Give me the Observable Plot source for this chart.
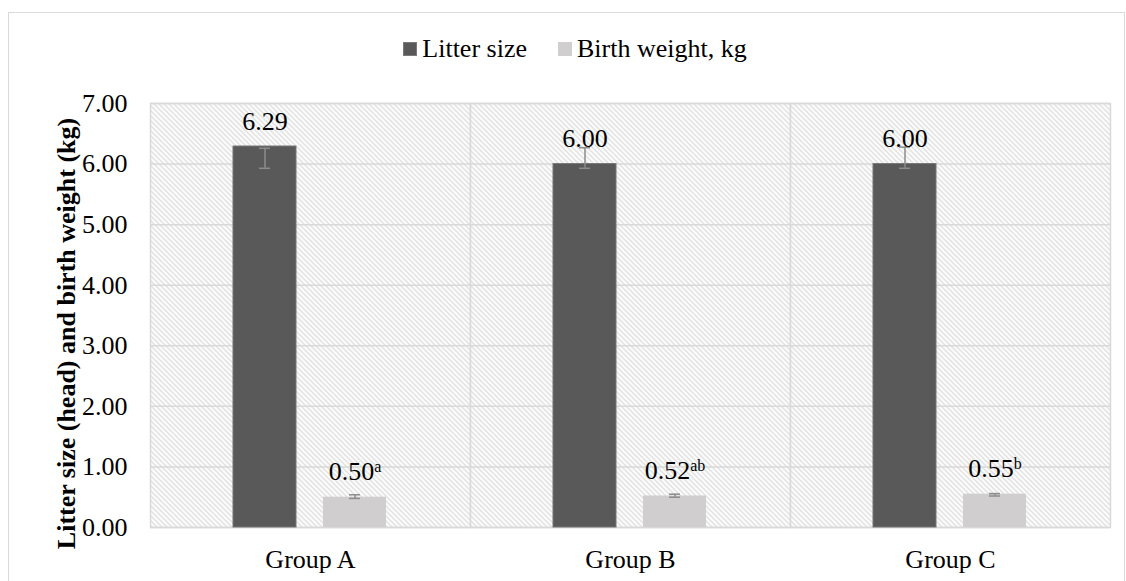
<!DOCTYPE html>
<html><head><meta charset="utf-8">
<script src="https://cdn.jsdelivr.net/npm/d3@7"></script>
<script src="https://cdn.jsdelivr.net/npm/@observablehq/plot@0.6"></script>
<style>
html,body{margin:0;padding:0;background:#fff;}
body{width:1126px;height:581px;overflow:hidden;position:relative;font-family:"Liberation Serif","Times New Roman",serif;}
#box{position:absolute;left:8px;top:12px;width:1117px;height:640px;border:1.5px solid #d9d9d9;box-sizing:border-box;}
#legend{position:absolute;top:34px;left:0;width:1150px;display:flex;justify-content:center;gap:31px;font-family:"Liberation Serif","Times New Roman",serif;font-size:26px;line-height:30px;color:#000;}
#legend .item{display:flex;align-items:center;}
#legend .sw{width:14px;height:14px;margin-right:5px;box-sizing:border-box;}
#chart{position:absolute;left:0;top:80px;}
</style>
</head><body>
<div id="box"></div>
<div id="legend"></div>
<div id="chart"></div>
<script>
// ---- data ----
const groups = ["Group A", "Group B", "Group C"];
const series = ["Litter size", "Birth weight, kg"];
const litterSize = [6.29, 6.00, 6.00];
const litterErrLow = [5.93, 5.93, 5.93];
const litterErrHigh = [6.26, 6.27, 6.28];
const birthWeight = [0.50, 0.52, 0.55];
const weightErrLow = [0.48, 0.50, 0.52];
const weightErrHigh = [0.54, 0.55, 0.56];
const weightLetters = ["a", "ab", "b"];
const yTicks = [0, 1, 2, 3, 4, 5, 6, 7];
const yTitle = "Litter size (head) and birth weight (kg)";
const colors = ["#595959", "#d0cece"];

const rows = [];
groups.forEach((g, i) => {
  rows.push({group: g, series: series[0], value: litterSize[i], low: litterErrLow[i], high: litterErrHigh[i], sup: ""});
  rows.push({group: g, series: series[1], value: birthWeight[i], low: weightErrLow[i], high: weightErrHigh[i], sup: weightLetters[i]});
});

// ---- legend ----
const legend = document.getElementById("legend");
series.forEach((s, i) => {
  const it = document.createElement("div");
  it.className = "item";
  const sw = document.createElement("span");
  sw.className = "sw";
  sw.style.background = colors[i];
  if (i === 0) sw.style.border = "1px solid #7a7a7a";
  const tx = document.createElement("span");
  tx.textContent = s;
  it.append(sw, tx);
  legend.append(it);
});

// ---- chart ----
const errColor = "#8c8c8c";
const chart = Plot.plot({
  width: 1126,
  height: 501,
  marginLeft: 150,
  marginRight: 16,
  marginTop: 23,
  marginBottom: 54,
  style: {fontFamily: '"Liberation Serif", "Times New Roman", serif', fontSize: "26px", color: "#000", background: "transparent", overflow: "visible"},
  fx: {domain: groups, padding: 0, label: null, axis: "bottom", tickSize: 0, tickPadding: 22},
  x: {domain: series, paddingInner: 0.297, paddingOuter: 0.907, axis: null},
  y: {domain: [0, 7], ticks: yTicks, tickFormat: d3.format(".2f"), tickSize: 0, tickPadding: 23,
      label: yTitle, labelAnchor: "center", labelArrow: "none", labelOffset: 94},
  color: {domain: series, range: colors},
  marks: [
    Plot.frame({fill: "url(#hatch)", stroke: "#d9d9d9", strokeWidth: 1.5}),
    Plot.gridY(yTicks, {stroke: "#d9d9d9", strokeOpacity: 1, strokeWidth: 1.5}),
    Plot.barY(rows, {filter: d => d.series === series[0], fx: "group", x: "series", y: "value", fill: "series", stroke: "#767676", strokeWidth: 1}),
    Plot.barY(rows, {filter: d => d.series === series[1], fx: "group", x: "series", y: "value", fill: "series"}),
    Plot.ruleX(rows, {fx: "group", x: "series", y1: "low", y2: "high", stroke: errColor, strokeWidth: 1.5}),
    Plot.tickY(rows, {fx: "group", x: "series", y: "low", insetLeft: 26, insetRight: 26, stroke: errColor, strokeWidth: 1.5}),
    Plot.tickY(rows, {fx: "group", x: "series", y: "high", insetLeft: 26, insetRight: 26, stroke: errColor, strokeWidth: 1.5}),
    Plot.text(rows, {fx: "group", x: "series", y: "value",
      text: d => d.sup ? `${d.value.toFixed(2)}|${d.sup}` : d.value.toFixed(2),
      lineAnchor: "bottom", dy: -17, fill: "#000"})
  ]
});

const ns = "http://www.w3.org/2000/svg";
const svg = chart.tagName.toLowerCase() === "svg" ? chart : chart.querySelector("svg");
const defs = document.createElementNS(ns, "defs");
defs.innerHTML = '<pattern id="hatch" width="5" height="5" patternUnits="userSpaceOnUse">' +
  '<rect width="5" height="5" fill="#ffffff"/>' +
  '<path d="M-1,-1 L6,6 M-1,4 L1,6 M4,-1 L6,1" stroke="#d3d3d3" stroke-width="1.2"/></pattern>';
svg.insertBefore(defs, svg.firstChild);

// superscripts
svg.querySelectorAll("text").forEach(t => {
  const s = t.textContent;
  if (s.includes("|") && t.children.length === 0) {
    const [num, sup] = s.split("|");
    t.textContent = num;
    const ts = document.createElementNS(ns, "tspan");
    ts.setAttribute("dy", "-8");
    ts.setAttribute("font-size", "16px");
    ts.textContent = sup;
    t.appendChild(ts);
  }
});

// bold y-axis title
svg.querySelectorAll('g[aria-label="y-axis label"] text').forEach(t => {
  t.setAttribute("font-weight", "bold");
  const tr = t.getAttribute("transform") || "";
  t.setAttribute("transform", "translate(0,18) " + tr);
});

document.getElementById("chart").append(chart);
</script>
</body></html>
